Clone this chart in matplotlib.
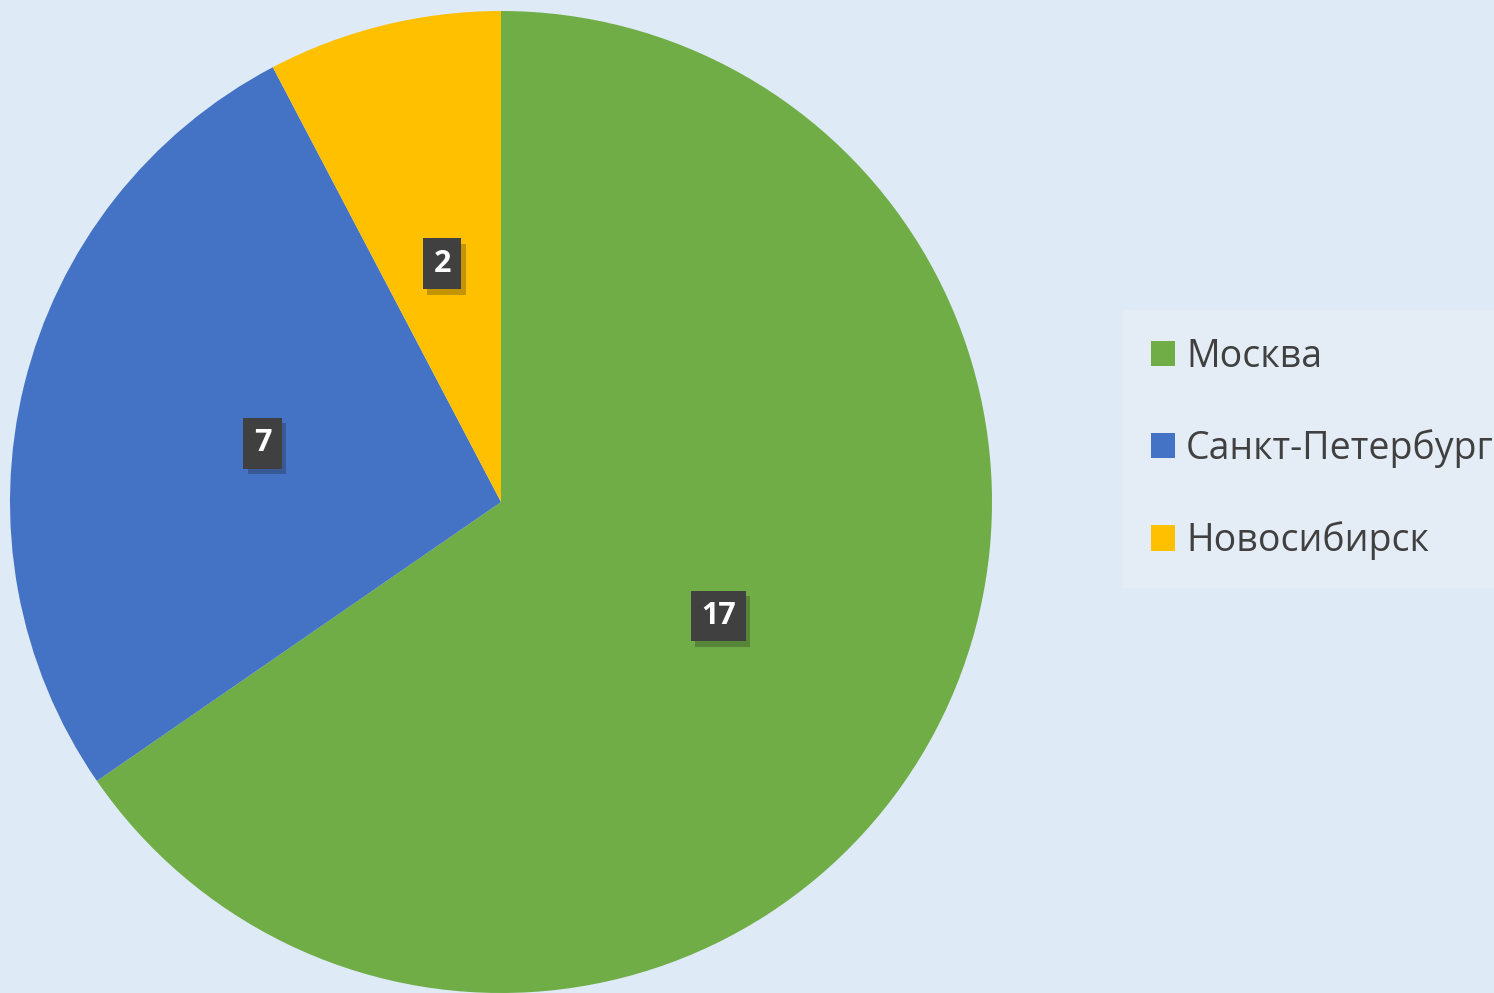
import matplotlib
matplotlib.use('Agg')
import matplotlib.pyplot as plt
import matplotlib.patheffects as pe

# Данные
cities = ['Москва', 'Санкт-Петербург', 'Новосибирск']
counts = [17, 7, 2]
colors = ['#70AD47', '#4472C4', '#FFC000']

BG = '#DEEAF6'

fig = plt.figure(figsize=(14.94, 9.93), dpi=100)
fig.patch.set_facecolor(BG)

# pie centred at (501, 502) px, radius ~491 px
ax = fig.add_axes([10 / 1494, 0, 982 / 1494, 982 / 993])
ax.set_facecolor(BG)

wedges, _, autotexts = ax.pie(
    counts, colors=colors, startangle=90, counterclock=False,
    radius=1.0, pctdistance=0.5,
    autopct=lambda p: f'{round(p * sum(counts) / 100):d}',
    wedgeprops=dict(linewidth=0),
    textprops=dict(color='white', fontsize=22, fontweight='bold',
                   family=['Open Sans', 'DejaVu Sans']),
)
ax.set_aspect('equal')
ax.set_xlim(-1.0, 1.0)
ax.set_ylim(-1.0, 1.0)

for t in autotexts:
    t.set_bbox(dict(boxstyle='square,pad=0.34', facecolor='#404040',
                    edgecolor='none'))
    t.get_bbox_patch().set_path_effects(
        [pe.SimplePatchShadow(offset=(3, -4), alpha=0.25), pe.Normal()])

leg = fig.legend(
    wedges, cities, loc='upper left',
    bbox_to_anchor=(1123 / 1494, 1 - 310 / 993),
    frameon=True, fancybox=False, facecolor='#E4EDF6', edgecolor='none',
    framealpha=1, borderaxespad=0,
    prop=dict(family=['Open Sans', 'DejaVu Sans'], size=27),
    handlelength=0.64, handleheight=0.67, handletextpad=0.3,
    labelspacing=1.42, borderpad=0.74,
)
for txt in leg.get_texts():
    txt.set_color('#404040')

plt.savefig('out.png', dpi=100, facecolor=BG)
